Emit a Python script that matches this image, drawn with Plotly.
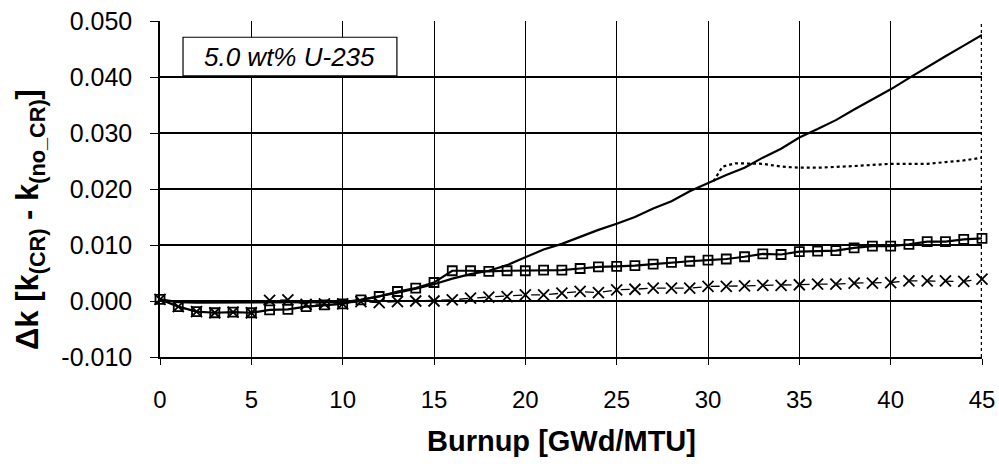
import plotly.graph_objects as go

# ---- data ----
burnup = list(range(0, 46))

squares_dk = [0.0003, -0.0010, -0.0019, -0.0021, -0.0020, -0.0021, -0.0016, -0.0015, -0.0010, -0.0007,
              -0.0005, 0.0002, 0.0008, 0.0017, 0.0023, 0.0033, 0.0054, 0.0054, 0.0053, 0.0054,
              0.0054, 0.0055, 0.0055, 0.0058, 0.0061, 0.0062, 0.0063, 0.0066, 0.0069, 0.0071,
              0.0073, 0.0075, 0.0079, 0.0084, 0.0083, 0.0088, 0.0089, 0.0090, 0.0095, 0.0098,
              0.0098, 0.0101, 0.0106, 0.0106, 0.0110, 0.0112]

crosses_dk = [0.0003, -0.0010, -0.0019, -0.0021, -0.0020, -0.0021, 0.0001, 0.0002, -0.0006, -0.0005,
              -0.0005, -0.0001, -0.0003, -0.0001, 0.0000, 0.0000, 0.0002, 0.0005, 0.0007, 0.0008,
              0.0011, 0.0011, 0.0014, 0.0017, 0.0015, 0.0020, 0.0021, 0.0023, 0.0023, 0.0023,
              0.0026, 0.0026, 0.0027, 0.0028, 0.0028, 0.0029, 0.0030, 0.0030, 0.0032, 0.0032,
              0.0033, 0.0036, 0.0036, 0.0036, 0.0035, 0.0039]

solid_dk = [0.0003, -0.0002, -0.0003, -0.0003, -0.0003, -0.0003, -0.0003, -0.0003, -0.0003, -0.0003,
            -0.0002, 0.0002, 0.0008, 0.0015, 0.0022, 0.0030, 0.0040, 0.0048, 0.0054, 0.0064,
            0.0078, 0.0092, 0.0102, 0.0115, 0.0127, 0.0138, 0.0150, 0.0165, 0.0178, 0.0196,
            0.0211, 0.0225, 0.0238, 0.0256, 0.0272, 0.0292, 0.0307, 0.0323, 0.0342, 0.0360,
            0.0378, 0.0398, 0.0418, 0.0437, 0.0456, 0.0475]

dotted_burnup = [30.3, 30.8, 31.5, 32, 33, 34, 35, 36, 37, 38, 39, 40, 41, 42, 43, 44, 45]
dotted_dk = [0.0214, 0.0240, 0.0246, 0.0246, 0.0245, 0.0240, 0.0238, 0.0238, 0.0239, 0.0241,
             0.0243, 0.0245, 0.0245, 0.0245, 0.0248, 0.0251, 0.0256]

x_ticks = [0, 5, 10, 15, 20, 25, 30, 35, 40, 45]
y_ticks = [-0.010, 0.000, 0.010, 0.020, 0.030, 0.040, 0.050]
y_tick_text = ["-0.010", "0.000", "0.010", "0.020", "0.030", "0.040", "0.050"]

FONT = "Liberation Sans, Arial, sans-serif"

fig = go.Figure()

fig.add_trace(go.Scatter(x=burnup, y=solid_dk, mode="lines",
                         line=dict(color="black", width=2.2), cliponaxis=False, showlegend=False))
fig.add_trace(go.Scatter(x=dotted_burnup, y=dotted_dk, mode="lines",
                         line=dict(color="black", width=2.2, dash="dot"), cliponaxis=False, showlegend=False))
fig.add_trace(go.Scatter(x=burnup, y=crosses_dk, mode="lines+markers",
                         line=dict(color="black", width=1.3, dash="dash"),
                         marker=dict(symbol="x-thin", size=11, line=dict(color="black", width=1.8)),
                         cliponaxis=False, showlegend=False))
fig.add_trace(go.Scatter(x=burnup, y=squares_dk, mode="lines+markers",
                         line=dict(color="black", width=2.2),
                         marker=dict(symbol="square-open", size=9, color="black", line=dict(width=1.8)),
                         cliponaxis=False, showlegend=False))

# label box
fig.add_shape(type="rect", xref="x", yref="y", x0=1.26, x1=12.97, y0=0.0402, y1=0.0471,
              line=dict(color="black", width=1.2), fillcolor="white", layer="above")
fig.add_annotation(x=(1.26 + 12.97) / 2, y=(0.0402 + 0.0471) / 2, xref="x", yref="y",
                   text="<i>5.0 wt% U-235</i>", showarrow=False,
                   font=dict(family=FONT, size=26, color="black"))
# right dotted border
fig.add_shape(type="line", xref="x", yref="paper", x0=45, x1=45, y0=0, y1=1,
              line=dict(color="black", width=2.5, dash="dot"), layer="above")

# axis titles as annotations (positioned like the reference)
fig.add_annotation(xref="paper", yref="paper", x=(561 - 160) / 822, y=-(441 - 357) / 336,
                   xanchor="center", yanchor="middle",
                   text="<b>Burnup [GWd/MTU]</b>", showarrow=False,
                   font=dict(family=FONT, size=29, color="black"))
fig.add_annotation(xref="paper", yref="paper", x=-(160 - 30) / 822, y=(357 - 220) / 336,
                   xanchor="center", yanchor="middle",
                   text="<b>Δk [k<sub>(CR)</sub> - k<sub>(no_CR)</sub>]</b>", showarrow=False,
                   textangle=-90, font=dict(family=FONT, size=31, color="black"))

fig.update_layout(
    width=999, height=467,
    margin=dict(l=160, r=17, t=21, b=110, autoexpand=False),
    paper_bgcolor="white", plot_bgcolor="white",
    font=dict(family=FONT, color="black"),
    xaxis=dict(range=[0, 45], tickvals=x_ticks, ticks="outside", ticklen=6, tickcolor="black",
               showgrid=True, gridcolor="black", gridwidth=1.3, showline=True, linecolor="black",
               linewidth=1.5, zeroline=False, ticklabelstandoff=14, automargin=False,
               tickfont=dict(family=FONT, size=24, color="black")),
    yaxis=dict(range=[-0.010, 0.050], tickvals=y_ticks, ticktext=y_tick_text, ticks="outside",
               ticklen=8, tickcolor="black", showgrid=True, gridcolor="black", gridwidth=1.8,
               showline=True, linecolor="black", linewidth=1.5, zeroline=False,
               ticklabelstandoff=13, automargin=False,
               tickfont=dict(family=FONT, size=25, color="black")),
)

fig.write_html("out.html")
